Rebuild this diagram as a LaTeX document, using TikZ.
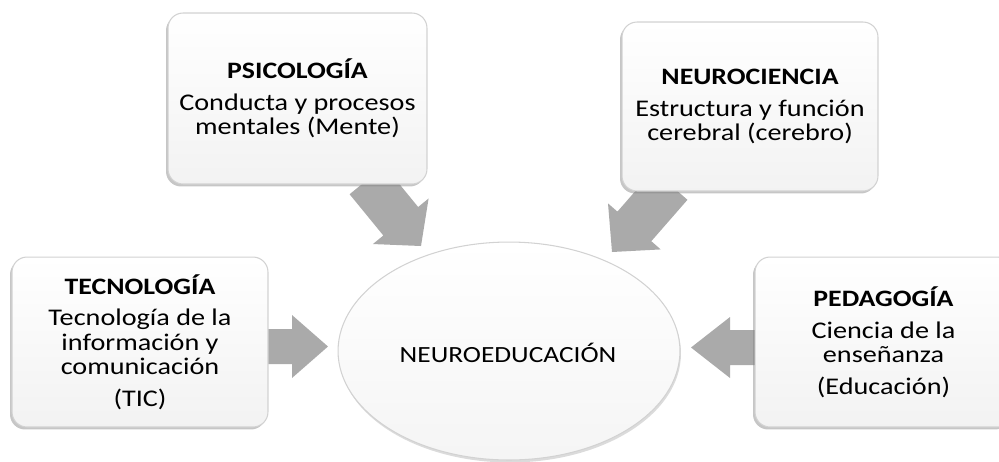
\documentclass[tikz,border=0pt]{standalone}
\usepackage{fontspec}
\setmainfont{Carlito}[FakeStretch=1.18]
\usetikzlibrary{shapes.geometric,shadows,calc}
\lineskiplimit=-20pt
\lineskip=0pt
\definecolor{arrowgray}{RGB}{170,170,170}
\definecolor{boxline}{RGB}{210,210,210}
\newcommand\bodyfnt{\fontsize{13.6}{13.8}\selectfont\lineskiplimit=-20pt\relax}
\newcommand\headfnt{\fontsize{13.4}{13.8}\selectfont\bfseries}
% #1 start, #2 tip, #3 half shaft width, #4 half head width, #5 head length
\newcommand\blockarr[5]{%
  \coordinate (#1-B) at ($(#2)!#5!(#1)$);
  \fill[arrowgray]
    ($(#1)!#3!90:(#2)$) -- ($(#1-B)!#3!90:(#2)$) -- ($(#1-B)!#4!90:(#2)$) --
    (#2) --
    ($(#1-B)!#4!-90:(#2)$) -- ($(#1-B)!#3!-90:(#2)$) -- ($(#1)!#3!-90:(#2)$) -- cycle;
}
\tikzset{
  card/.style={rectangle, rounded corners=0.3cm, draw=boxline, line width=0.6pt,
    top color=white, bottom color=black!5, inner sep=0pt, align=center,
    font=\bodyfnt, text=black,
    drop shadow={shadow xshift=-0.04cm, shadow yshift=-0.05cm, fill=black!50, opacity=0.45}},
  hub/.style={ellipse, draw=boxline, line width=0.6pt,
    top color=white, bottom color=black!4, inner sep=0pt,
    drop shadow={shadow xshift=0.02cm, shadow yshift=-0.05cm, fill=black!35, opacity=0.4}},
  hubtext/.style={font=\fontsize{13.2}{14}\selectfont, text=black, inner sep=0pt}
}
\begin{document}
\begin{tikzpicture}[x=0.02cm, y=-0.02cm]
\useasboundingbox (0,0) rectangle (999,461);
\clip (0,0) rectangle (999,461);

% connector end points
\coordinate (psiOut) at (367,180);
\coordinate (psiIn) at (421,246);
\coordinate (neuOut) at (670.5,185);
\coordinate (neuIn) at (612,252);
\coordinate (tecOut) at (262,346.5);
\coordinate (tecIn) at (328,346.5);
\coordinate (pedOut) at (762,347.5);
\coordinate (pedIn) at (691,347.5);

% block arrows (drawn first so the boxes cover their tails)
\blockarr{psiOut}{psiIn}{0.45cm}{0.72cm}{0.64cm}
\blockarr{neuOut}{neuIn}{0.45cm}{0.70cm}{0.68cm}
\blockarr{tecOut}{tecIn}{0.35cm}{0.63cm}{0.72cm}
\blockarr{pedOut}{pedIn}{0.35cm}{0.61cm}{0.78cm}

% boxes
\node[card, minimum width=5.18cm, minimum height=3.42cm] (psi) at (297.5,98.5)
  {{\headfnt PSICOLOGÍA}\\[4.3pt]Conducta y procesos\\mentales (Mente)};
\node[card, minimum width=5.12cm, minimum height=3.38cm] (neuro) at (750,106.5)
  {{\headfnt NEUROCIENCIA}\\[4.3pt]Estructura y función\\cerebral (cerebro)};
\node[card, minimum width=5.12cm, minimum height=3.40cm] (tec) at (140,342)
  {{\headfnt TECNOLOGÍA}\\[4.3pt]Tecnología de la\\información y\\comunicación\\[4.3pt](TIC)};
\node[card, minimum width=5.14cm, minimum height=3.40cm] (ped) at (883.5,342)
  {{\headfnt PEDAGOGÍA}\\[4.3pt]Ciencia de la\\enseñanza\\[4.3pt](Educación)};

% central ellipse
\node[hub, minimum width=6.84cm, minimum height=4.36cm] (neuroedu) at (509,351) {};
\node[hubtext] (neuroeduText) at (508,353) {NEUROEDUCACIÓN};
\end{tikzpicture}
\end{document}
